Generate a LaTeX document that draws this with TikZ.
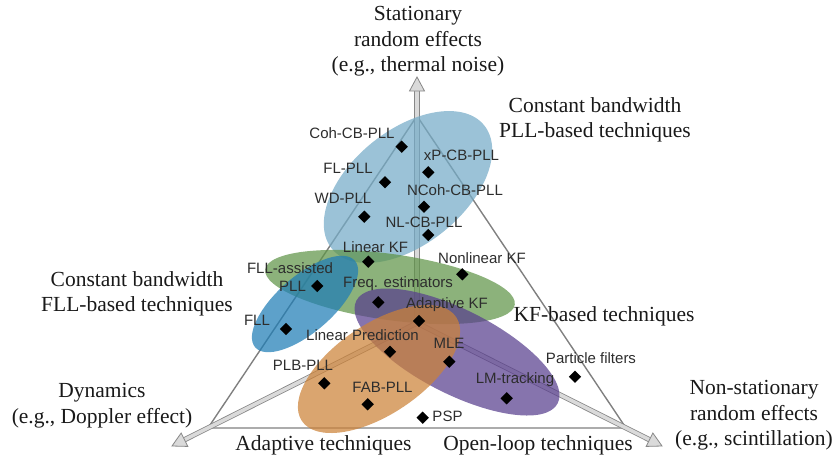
\documentclass[tikz,border=0pt]{standalone}
\usepackage{fontspec}
\setmainfont{Liberation Serif}
\setsansfont{Liberation Sans}
\usetikzlibrary{shapes.geometric,calc}

\definecolor{edgegray}{RGB}{128,128,128}
\definecolor{shaftline}{RGB}{135,135,135}
\definecolor{shaftfill}{RGB}{218,218,218}
\definecolor{labelgray}{RGB}{45,45,45}
\definecolor{captext}{RGB}{25,25,25}
\definecolor{pllblue}{RGB}{116,171,199}
\definecolor{kfgreen}{RGB}{95,148,72}
\definecolor{fllblue}{RGB}{30,125,182}
\definecolor{olpurple}{RGB}{88,62,142}
\definecolor{adorange}{RGB}{204,130,56}

\begin{document}
\begin{tikzpicture}[x=1pt,y=-1pt,
  item/.style={diamond, fill=black, inner sep=0pt, minimum size=12.5pt},
  lbl/.style={font=\sffamily\fontsize{15}{17}\selectfont, text=labelgray, inner sep=0pt},
  captxt/.style={font=\fontsize{21.5}{25.5}\selectfont, text=captext, align=center, inner sep=0pt},
  side/.style={draw=edgegray, line width=1.4pt},
  shaft/.style={draw=shaftline, line width=0.8pt, double=shaftfill, double distance=3.6pt},
  head/.style={draw=shaftline, line width=0.8pt, fill=shaftfill, line join=miter},
  zone/.style={fill opacity=0.72}
]
\useasboundingbox (0,0) rectangle (834,455);

% triangle corners, centre and arrow tips
\coordinate (C) at (417,323);
\coordinate (A) at (417,116);
\coordinate (BL) at (208,428);
\coordinate (BR) at (626,428);
\coordinate (tipT) at (417,77);
\coordinate (tipL) at (172,446);
\coordinate (tipR) at (662,446);
\coordinate (baseT) at ($(tipT)!14pt!(C)$);
\coordinate (baseL) at ($(tipL)!14pt!(C)$);
\coordinate (baseR) at ($(tipR)!14pt!(C)$);

% triangle
\draw[side] (A) -- (BL) -- (BR) -- cycle;

% hollow arrows from the centre
\draw[shaft] (C) -- (baseT);
\draw[shaft] (C) -- (baseL);
\draw[shaft] (C) -- (baseR);
\filldraw[head] (tipT) -- ($(baseT)!7.5pt!90:(C)$) -- ($(baseT)!7.5pt!-90:(C)$) -- cycle;
\filldraw[head] (tipL) -- ($(baseL)!7.5pt!90:(C)$) -- ($(baseL)!7.5pt!-90:(C)$) -- cycle;
\filldraw[head] (tipR) -- ($(baseR)!7.5pt!90:(C)$) -- ($(baseR)!7.5pt!-90:(C)$) -- cycle;

% technique families
\fill[zone, pllblue, rotate around={39:(408,187)}] (408,187) ellipse [x radius=98pt, y radius=57pt];
\fill[zone, kfgreen, rotate around={-8:(390,287)}] (390,287) ellipse [x radius=126pt, y radius=33pt];
\fill[zone, fllblue, rotate around={41:(305,304)}] (305,304) ellipse [x radius=66pt, y radius=28pt];
\fill[zone, olpurple, rotate around={-27:(457,352)}] (457,352) ellipse [x radius=113pt, y radius=42pt];
\fill[zone, adorange, rotate around={34:(379,369)}] (379,369) ellipse [x radius=93pt, y radius=45pt];

% individual techniques
\node[item] (d1) at (401.7,146.7) {};
\node[item] (d2) at (428.3,172.3) {};
\node[item] (d3) at (385,182.3) {};
\node[item] (d4) at (424,206.7) {};
\node[item] (d5) at (364.3,216.7) {};
\node[item] (d6) at (428.3,235) {};
\node[item] (d7) at (368.3,261.7) {};
\node[item] (d8) at (462.3,274.3) {};
\node[item] (d9) at (317.3,286) {};
\node[item] (d10) at (378.3,302.3) {};
\node[item] (d11) at (419,321) {};
\node[item] (d12) at (286,329) {};
\node[item] (d13) at (390,351.7) {};
\node[item] (d14) at (449.3,361.7) {};
\node[item] (d15) at (324.3,383.3) {};
\node[item] (d16) at (367.7,404.3) {};
\node[item] (d17) at (422.7,417.7) {};
\node[item] (d18) at (506.7,398.3) {};
\node[item] (d19) at (575,376.7) {};

\node[lbl] (l1) at (352,133) {Coh-CB-PLL};
\node[lbl] (l2) at (461.5,155.7) {xP-CB-PLL};
\node[lbl] (l3) at (348,168) {FL-PLL};
\node[lbl] (l4) at (455,190) {NCoh-CB-PLL};
\node[lbl] (l5) at (343,198) {WD-PLL};
\node[lbl] (l6) at (424,222) {NL-CB-PLL};
\node[lbl] (l7) at (375.5,247) {Linear KF};
\node[lbl] (l8) at (482,258) {Nonlinear KF};
\node[lbl] (l9a) at (290,268) {FLL-assisted};
\node[lbl] (l9b) at (292.5,286) {PLL};
\node[lbl] (l10) at (398,284) {Freq. estimators};
\node[lbl] (l11) at (447,305) {Adaptive KF};
\node[lbl] (l12) at (257,320) {FLL};
\node[lbl] (l13) at (362.5,335) {Linear Prediction};
\node[lbl] (l14) at (449,343) {MLE};
\node[lbl] (l15) at (303,365) {PLB-PLL};
\node[lbl] (l16) at (382.5,387) {FAB-PLL};
\node[lbl] (l17) at (447.5,416) {PSP};
\node[lbl] (l18) at (515,380) {LM-tracking};
\node[lbl] (l19) at (591,358) {Particle filters};

% axis and family captions
\node[captxt] (capT) at (418,41.5) {Stationary\\random effects\\(e.g., thermal noise)};
\node[captxt] (capPLL) at (595,120) {Constant bandwidth\\PLL-based techniques};
\node[captxt] (capFLL) at (137,294) {Constant bandwidth\\FLL-based techniques};
\node[captxt] (capKF) at (604,316) {KF-based techniques};
\node[captxt] (capL) at (102,405.5) {Dynamics\\(e.g., Doppler effect)};
\node[captxt] (capR) at (754,415.5) {Non-stationary\\random effects\\(e.g., scintillation)};
\node[captxt] (capAd) at (323.5,445) {Adaptive techniques};
\node[captxt] (capOL) at (538,445) {Open-loop techniques};
\end{tikzpicture}
\end{document}
